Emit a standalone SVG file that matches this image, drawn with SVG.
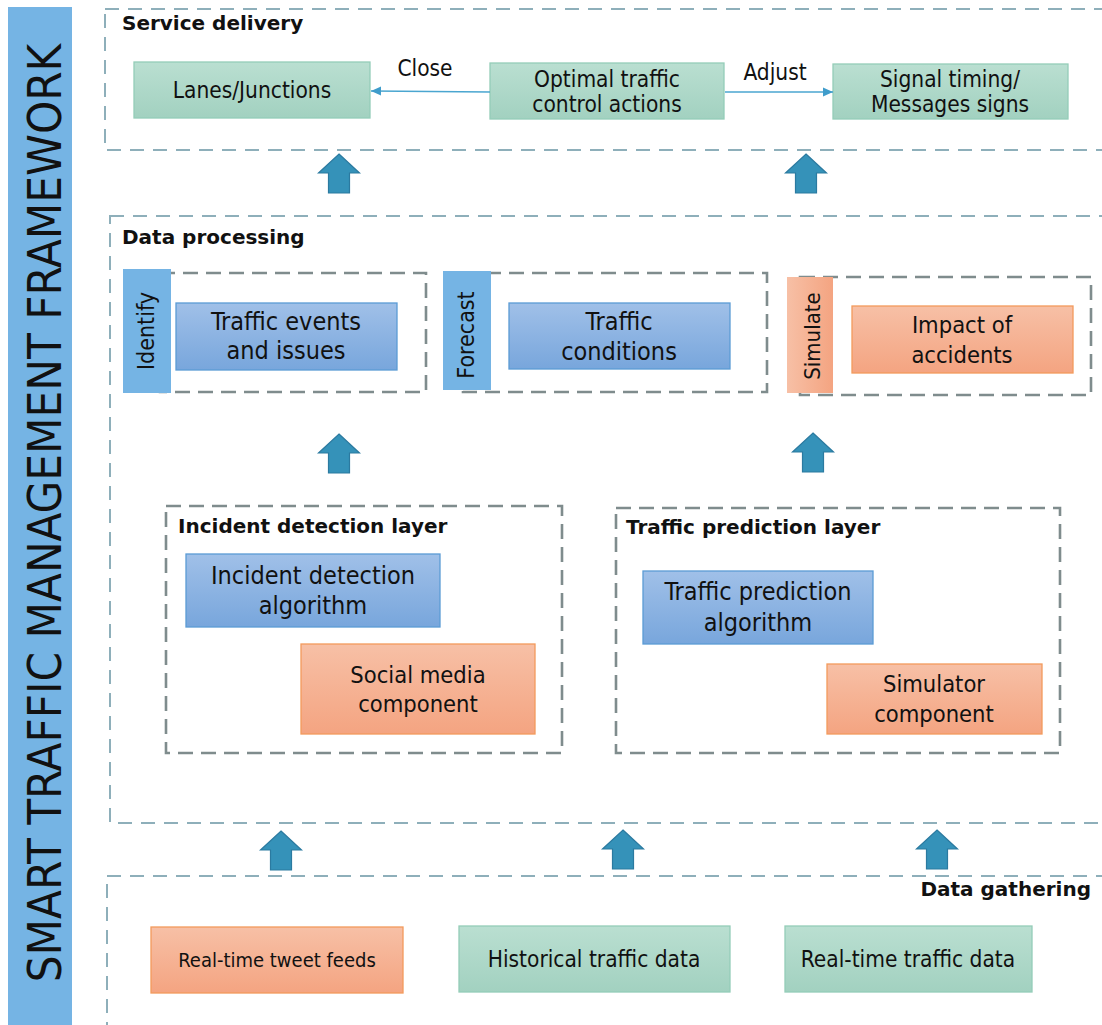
<svg xmlns="http://www.w3.org/2000/svg" xmlns:xlink="http://www.w3.org/1999/xlink" width="1102" height="1025" viewBox="0 0 1102 1025">
  <defs>
    <linearGradient id="gGreen" x1="0" y1="0" x2="0" y2="1">
      <stop offset="0" stop-color="#badfd1"/>
      <stop offset="1" stop-color="#a2d1c0"/>
    </linearGradient>
    <linearGradient id="gBlue" x1="0" y1="0" x2="0" y2="1">
      <stop offset="0" stop-color="#a0c0e8"/>
      <stop offset="1" stop-color="#78a6dc"/>
    </linearGradient>
    <linearGradient id="gOrange" x1="0" y1="0" x2="0" y2="1">
      <stop offset="0" stop-color="#f7c0a6"/>
      <stop offset="1" stop-color="#f4a481"/>
    </linearGradient>
    <linearGradient id="gOrangeH" x1="0" y1="0" x2="1" y2="0">
      <stop offset="0" stop-color="#f7c0a6"/>
      <stop offset="1" stop-color="#f4a481"/>
    </linearGradient>
    <marker id="tip" markerUnits="userSpaceOnUse" markerWidth="10" markerHeight="10" viewBox="0 0 10 10" refX="10" refY="5" orient="auto">
      <path d="M0,0.5 L10,5 L0,9.5 Z" fill="#3f9ccb"/>
    </marker>
    <path id="up" d="M0,0 L20.5,19 L10.5,19 L10.5,39 L-10.5,39 L-10.5,19 L-20.5,19 Z"/>
    <style>
      text { font-family: "DejaVu Sans", Verdana, sans-serif; fill: #111; }
      .cond { font-stretch: condensed; }
      .title { font-weight: bold; font-size: 20px; }
      .lbl { font-size: 22.5px; text-anchor: middle; font-stretch: condensed; }
      .big { font-size: 25px; text-anchor: middle; font-stretch: condensed; }
      .mid { font-size: 23.5px; text-anchor: middle; font-stretch: condensed; }
      .sec { fill: none; stroke: #8eafba; stroke-width: 2; stroke-dasharray: 14 9; }
      .grp { fill: none; stroke: #7f8c8d; stroke-width: 2.6; stroke-dasharray: 15 8; }
      .green { fill: url(#gGreen); stroke: #94cdb8; stroke-width: 1.3; }
      .blue { fill: url(#gBlue); stroke: #5b9bd5; stroke-width: 1.3; }
      .orange { fill: url(#gOrange); stroke: #f39a5c; stroke-width: 1.3; }
      .tab { fill: #75b4e4; }
      .flow { stroke: #4aa6d0; stroke-width: 1.6; fill: none; marker-end: url(#tip); }
      .uparrow { fill: #3592b9; stroke: #2b7aa0; stroke-width: 1.2; }
    </style>
  </defs>

  <rect width="1102" height="1025" fill="#ffffff"/>

  <!-- framework banner -->
  <g id="framework">
    <rect x="8" y="7" width="64" height="1025" class="tab"/>
    <text transform="translate(61,513) rotate(-90)" class="cond" font-size="47" text-anchor="middle">SMART TRAFFIC MANAGEMENT FRAMEWORK</text>
  </g>

  <!-- section frames -->
  <g id="service-delivery">
    <rect x="105" y="9" width="1030" height="141" class="sec"/>
    <text x="122" y="30" class="title">Service delivery</text>
  </g>
  <g id="data-processing">
    <rect x="110" y="216" width="1030" height="607" class="sec"/>
    <text x="122" y="244" class="title">Data processing</text>
  </g>
  <g id="data-gathering">
    <rect x="107" y="876" width="1030" height="200" class="sec"/>
    <text x="1091" y="896" class="title" text-anchor="end">Data gathering</text>
  </g>

  <!-- service delivery nodes -->
  <g id="lanes-junctions">
    <rect x="134" y="62" width="236" height="56" class="green"/>
    <text x="252" y="98" class="lbl">Lanes/Junctions</text>
  </g>
  <g id="optimal-actions">
    <rect x="490" y="63" width="234" height="56" class="green"/>
    <text x="607" y="87" class="lbl">Optimal traffic</text>
    <text x="607" y="112" class="lbl">control actions</text>
  </g>
  <g id="signal-timing">
    <rect x="833" y="64" width="235" height="55" class="green"/>
    <text x="950" y="87" class="lbl">Signal timing/</text>
    <text x="950" y="112" class="lbl">Messages signs</text>
  </g>

  <!-- data processing: identify / forecast / simulate -->
  <g id="identify">
    <rect x="160" y="273" width="266" height="119" class="grp"/>
    <rect x="123" y="269" width="48" height="124" class="tab"/>
    <text transform="translate(154,331) rotate(-90)" class="cond" font-size="23" text-anchor="middle">Identify</text>
    <rect x="176" y="303" width="221" height="67" class="blue"/>
    <text x="286" y="330" class="big">Traffic events</text>
    <text x="286" y="359" class="big">and issues</text>
  </g>
  <g id="forecast">
    <rect x="463" y="273" width="304" height="119" class="grp"/>
    <rect x="443" y="271" width="48" height="119" class="tab"/>
    <text transform="translate(474,335) rotate(-90)" class="cond" font-size="23" text-anchor="middle">Forecast</text>
    <rect x="509" y="303" width="221" height="66" class="blue"/>
    <text x="619" y="330" class="big">Traffic</text>
    <text x="619" y="360" class="big">conditions</text>
  </g>
  <g id="simulate">
    <rect x="800" y="277" width="291" height="118" class="grp"/>
    <rect x="787" y="277" width="46" height="116" fill="url(#gOrangeH)"/>
    <text transform="translate(820,336) rotate(-90)" class="cond" font-size="22" text-anchor="middle">Simulate</text>
    <rect x="852" y="306" width="221" height="67" class="orange"/>
    <text x="962" y="333" class="mid">Impact of</text>
    <text x="962" y="363" class="mid">accidents</text>
  </g>

  <!-- processing layers -->
  <g id="incident-layer">
    <rect x="166" y="506" width="396" height="247" class="grp"/>
    <text x="178" y="533" class="title">Incident detection layer</text>
  </g>
  <g id="incident-algorithm">
    <rect x="186" y="554" width="254" height="73" class="blue"/>
    <text x="313" y="584" class="big">Incident detection</text>
    <text x="313" y="614" class="big">algorithm</text>
  </g>
  <g id="social-media">
    <rect x="301" y="644" width="234" height="90" class="orange"/>
    <text x="418" y="683" class="mid">Social media</text>
    <text x="418" y="712" class="mid">component</text>
  </g>
  <g id="prediction-layer">
    <rect x="616" y="508" width="444" height="245" class="grp"/>
    <text x="626" y="534" class="title">Traffic prediction layer</text>
  </g>
  <g id="prediction-algorithm">
    <rect x="643" y="571" width="230" height="73" class="blue"/>
    <text x="758" y="600" class="big">Traffic prediction</text>
    <text x="758" y="631" class="big">algorithm</text>
  </g>
  <g id="simulator">
    <rect x="827" y="664" width="215" height="70" class="orange"/>
    <text x="934" y="692" class="mid">Simulator</text>
    <text x="934" y="722" class="mid">component</text>
  </g>

  <!-- data sources -->
  <g id="tweet-feeds">
    <rect x="151" y="927" width="252" height="66" class="orange"/>
    <text x="277" y="967" class="cond" font-size="20" text-anchor="middle">Real-time tweet feeds</text>
  </g>
  <g id="historical-data">
    <rect x="459" y="926" width="271" height="66" class="green"/>
    <text x="594" y="967" class="lbl">Historical traffic data</text>
  </g>
  <g id="realtime-data">
    <rect x="785" y="926" width="247" height="66" class="green"/>
    <text x="908" y="967" class="lbl">Real-time traffic data</text>
  </g>

  <!-- connectors -->
  <g id="connectors">
    <path d="M490,92 L371,91" class="flow"/>
    <path d="M725,92 L833,92" class="flow"/>
    <text x="425" y="76" class="lbl">Close</text>
    <text x="775" y="80" class="lbl">Adjust</text>
    <use href="#up" x="339" y="154" class="uparrow"/>
    <use href="#up" x="806" y="154" class="uparrow"/>
    <use href="#up" x="339" y="434" class="uparrow"/>
    <use href="#up" x="813" y="433" class="uparrow"/>
    <use href="#up" x="281" y="831" class="uparrow"/>
    <use href="#up" x="623" y="830" class="uparrow"/>
    <use href="#up" x="937" y="830" class="uparrow"/>
  </g>
</svg>
